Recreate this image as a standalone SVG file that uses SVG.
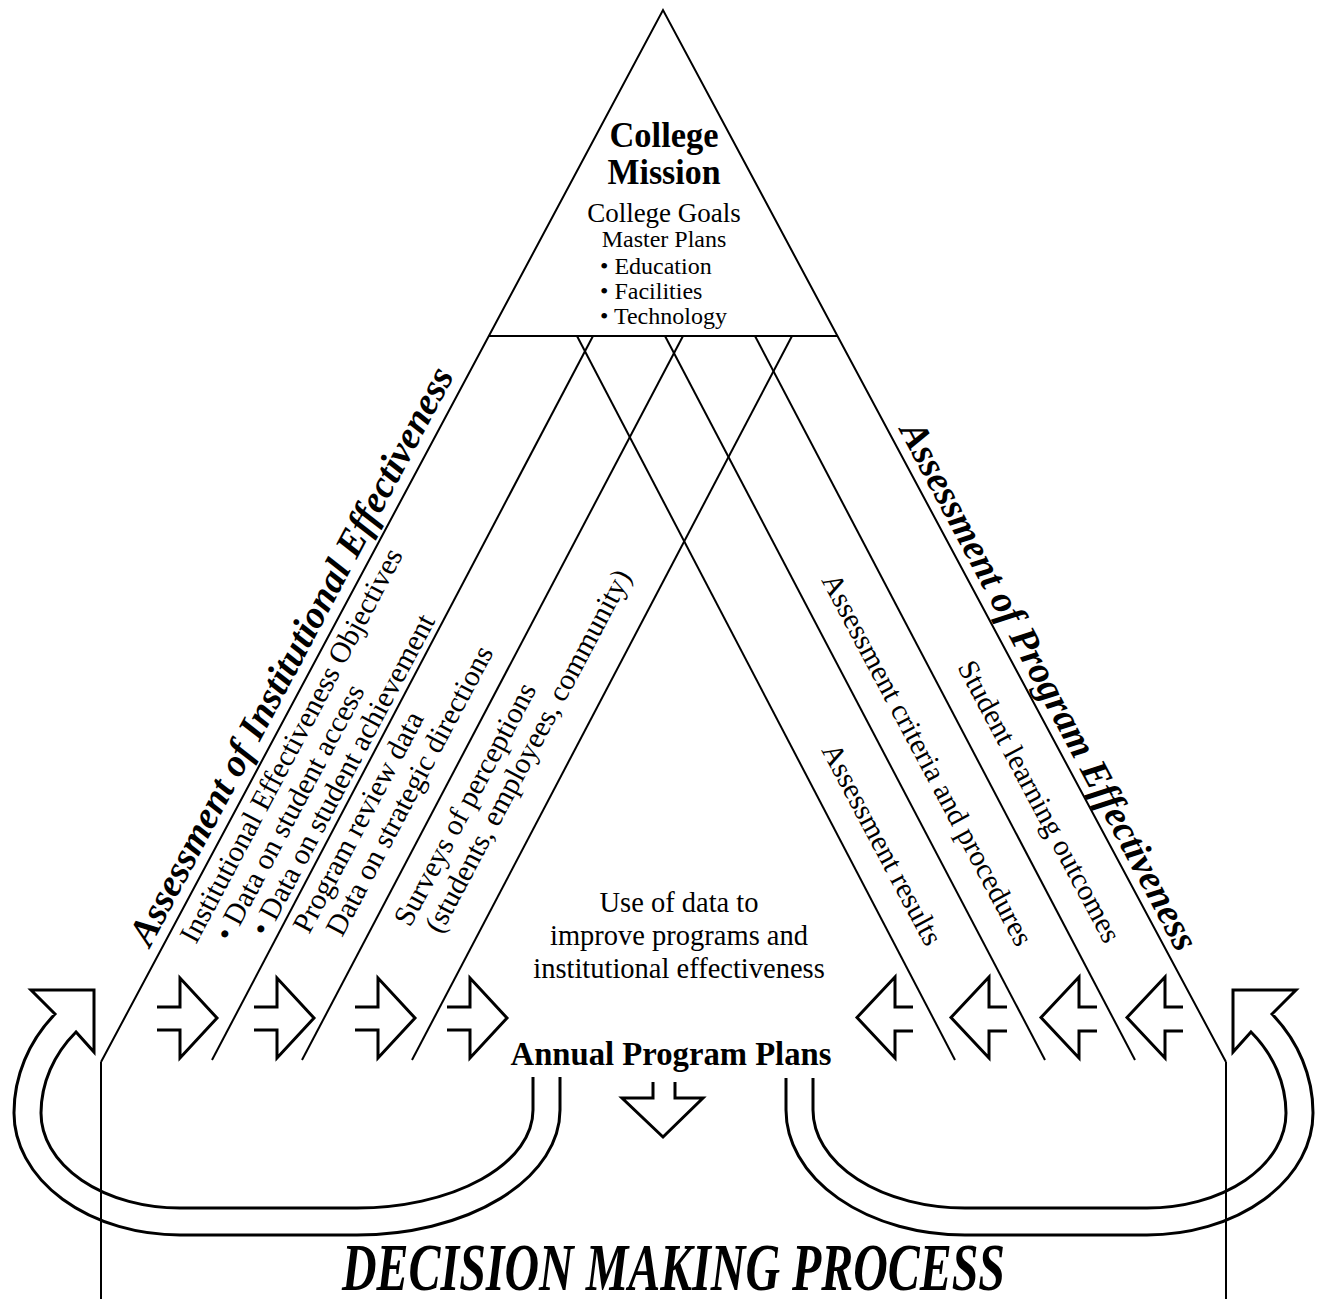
<svg xmlns="http://www.w3.org/2000/svg" xmlns:xlink="http://www.w3.org/1999/xlink" width="1325" height="1299" viewBox="0 0 1325 1299">
<style>
.ln{stroke:#000;stroke-width:2;fill:none}
.ar{stroke:#000;stroke-width:3;fill:none;stroke-linejoin:miter;stroke-miterlimit:10}
.t{font-family:"Liberation Serif","Times New Roman",serif;fill:#000}
.b{font-weight:bold}
.bi{font-weight:bold;font-style:italic}
.c{text-anchor:middle}
.s28{font-size:28.5px}
.s29{font-size:29.5px}
.ttl{font-size:38.5px}
</style>
<defs>
<path id="rarr" class="ar" d="M0,1007 H23 V978 L60,1018 L23,1058 V1030 H0"/>
<path id="larr" class="ar" d="M0,1007 H-18 V977 L-56,1017.5 L-18,1058 V1031 H0"/>
</defs>
<rect width="1325" height="1299" fill="#fff"/>

<g id="connectors">
<polyline class="ln" points="101,1062 663,10 1226,1062"/>
<line class="ln" x1="489" y1="336" x2="838" y2="336"/>
<line class="ln" x1="101" y1="1062" x2="101" y2="1299"/>
<line class="ln" x1="1226" y1="1062" x2="1226" y2="1299"/>
<line class="ln" x1="593" y1="336" x2="212" y2="1060"/>
<line class="ln" x1="683" y1="336" x2="302" y2="1060"/>
<line class="ln" x1="792" y1="336" x2="412" y2="1060"/>
<line class="ln" x1="577" y1="336" x2="955" y2="1060"/>
<line class="ln" x1="665" y1="336" x2="1045" y2="1060"/>
<line class="ln" x1="755" y1="336" x2="1135" y2="1060"/>
<g id="right-arrows">
<use xlink:href="#rarr" href="#rarr" x="157"/>
<use xlink:href="#rarr" href="#rarr" x="254"/>
<use xlink:href="#rarr" href="#rarr" x="355"/>
<use xlink:href="#rarr" href="#rarr" x="447"/>
</g>
<g id="left-arrows">
<use xlink:href="#larr" href="#larr" x="913"/>
<use xlink:href="#larr" href="#larr" x="1007"/>
<use xlink:href="#larr" href="#larr" x="1097"/>
<use xlink:href="#larr" href="#larr" x="1183"/>
</g>
<path id="down-arrow" class="ar" d="M653,1082 V1098 H622 L663,1137 L703,1098 H675 V1082"/>
<path id="loop-left" class="ar" d="M560,1077 V1110 A203,125 0 0 1 357,1235 H180 A166,122 0 0 1 14,1113 A166,150 0 0 1 55,1014 L31,990 L94,990 L94,1052 L76,1032 A139,123 0 0 0 41,1113 A139,95 0 0 0 180,1208 H357 A176,98 0 0 0 533,1110 V1077"/>
<path id="loop-right" class="ar" d="M786,1078 V1110 A179,125 0 0 0 965,1235 H1147 A166,122 0 0 0 1313,1113 A166,150 0 0 0 1272,1014 L1296,990 L1233,990 L1233,1052 L1251,1032 A139,123 0 0 1 1286,1113 A139,95 0 0 1 1147,1208 H965 A152,98 0 0 1 813,1110 V1078"/>
</g>

<g id="college-mission">
<text class="t b c" x="664" y="147" font-size="36.5" textLength="109" lengthAdjust="spacingAndGlyphs">College</text>
<text class="t b c" x="664" y="184" font-size="36.5" textLength="113" lengthAdjust="spacingAndGlyphs">Mission</text>
<text class="t c" x="664" y="222" font-size="27">College Goals</text>
<text class="t c" x="664" y="247" font-size="24">Master Plans</text>
<text class="t" x="600" y="274" font-size="24">• Education</text>
<text class="t" x="600" y="299" font-size="24">• Facilities</text>
<text class="t" x="600" y="324" font-size="24">• Technology</text>
</g>

<g id="institutional-effectiveness">
<text class="t bi ttl" transform="translate(150,948) rotate(-62)">Assessment of Institutional Effectiveness</text>
<text class="t s29" transform="translate(196,945) rotate(-62)">Institutional Effectiveness Objectives</text>
<text class="t s29" transform="translate(231,943) rotate(-62)">• Data on student access</text>
<text class="t s29" transform="translate(267,938) rotate(-62)">• Data on student achievement</text>
<text class="t s29" transform="translate(309,935) rotate(-62)">Program review data</text>
<text class="t s29" transform="translate(342,938) rotate(-62)">Data on strategic directions</text>
<text class="t s29" transform="translate(410,928) rotate(-62)">Surveys of perceptions</text>
<text class="t s29" transform="translate(441,935) rotate(-62)">(students, employees, community)</text>
</g>

<g id="program-effectiveness">
<text class="t bi ttl" transform="translate(899,430) rotate(62)">Assessment of Program Effectiveness</text>
<text class="t s29" transform="translate(957,667) rotate(62)">Student learning outcomes</text>
<text class="t s29" transform="translate(821,580) rotate(62)">Assessment criteria and procedures</text>
<text class="t s29" transform="translate(821,750) rotate(62)">Assessment results</text>
</g>

<g id="use-of-data">
<text class="t c s28" x="679" y="912">Use of data to</text>
<text class="t c s28" x="679" y="945">improve programs and</text>
<text class="t c s28" x="679" y="978">institutional effectiveness</text>
</g>

<g id="annual-program-plans">
<text class="t b c" x="671" y="1065" font-size="32.7">Annual Program Plans</text>
</g>

<g id="decision-making">
<text class="t bi" x="342" y="1290" font-size="68" textLength="663" lengthAdjust="spacingAndGlyphs">DECISION MAKING PROCESS</text>
</g>
</svg>
